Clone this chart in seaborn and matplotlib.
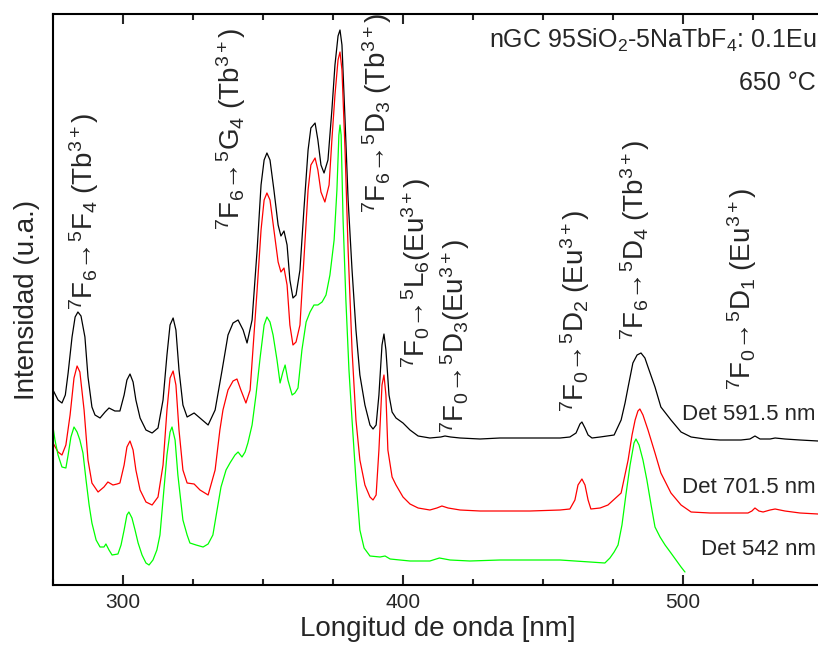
import numpy as np
import pandas as pd
import matplotlib
matplotlib.use("Agg")
import matplotlib.pyplot as plt
import seaborn as sns
from matplotlib.ticker import MultipleLocator

# Excitation spectra, intensity in arbitrary units (stacked for clarity)
wl_591 = [275.0, 276.8, 278.2, 279.4, 280.4, 281.8, 282.9, 283.9, 285.0, 286.4,
          287.5, 288.9, 290.0, 291.8, 293.6, 295.0, 297.1, 298.9, 300.4, 301.4,
          302.5, 303.6, 304.6, 306.1, 308.2, 310.4, 312.5, 314.3, 315.7, 316.8,
          317.9, 318.9, 320.0, 321.4, 322.9, 325.4, 327.5, 330.4, 332.9, 335.4,
          337.5, 339.3, 341.1, 342.9, 344.3, 346.1, 347.9, 349.3, 350.4, 351.4,
          352.5, 353.9, 355.4, 356.4, 357.5, 358.6, 359.6, 360.7, 361.8, 363.2,
          364.6, 366.1, 367.1, 368.6, 369.6, 370.7, 371.8, 373.2, 374.6, 375.7,
          376.8, 377.5, 378.2, 379.3, 380.4, 381.8, 383.2, 384.6, 386.4, 388.2,
          389.3, 390.4, 391.4, 392.5, 393.2, 393.9, 395.0, 396.1, 397.5, 400.0,
          402.5, 405.4, 409.6, 413.5, 415.0, 417.0, 420.4, 427.5, 434.6, 445.4,
          456.1, 459.6, 461.8, 463.2, 463.9, 465.0, 466.1, 467.5, 470.4, 475.4,
          477.9, 479.3, 480.4, 482.1, 483.6, 485.0, 486.4, 487.5, 490.0, 492.1,
          495.7, 499.3, 502.9, 507.9, 513.2, 520.7, 523.9, 525.7, 527.5, 531.1,
          532.9, 536.4, 541.8, 548.2]
int_591 = [195, 185, 182, 190, 212, 248, 268, 273, 269, 248,
           208, 178, 170, 167, 173, 177, 174, 174, 190, 205,
           211, 203, 185, 167, 155, 152, 157, 185, 230, 260,
           267, 255, 215, 180, 168, 172, 167, 160, 175, 215,
           250, 262, 265, 255, 242, 265, 335, 400, 425, 432,
           425, 395, 360, 349, 354, 340, 305, 287, 290, 315,
           375, 435, 457, 462, 445, 420, 412, 425, 475, 520,
           549, 555, 540, 465, 385, 315, 255, 210, 180, 160,
           156, 160, 190, 240, 251, 235, 190, 173, 167, 162,
           155, 149, 147, 148, 149, 148, 147, 146, 147, 147,
           147, 148, 152, 161, 163, 157, 150, 147, 148, 150,
           165, 182, 198, 222, 230, 232, 227, 218, 198, 178,
           165, 153, 148, 146, 145, 145, 146, 149, 146, 146,
           147, 146, 145, 144]

wl_701 = [275.0, 276.8, 278.2, 279.6, 281.1, 282.5, 283.6, 284.6, 286.1, 287.5,
          288.9, 291.1, 293.2, 294.6, 296.4, 297.9, 298.9, 300.4, 301.4, 302.5,
          303.6, 304.6, 306.1, 308.2, 310.4, 312.5, 314.3, 315.7, 316.8, 317.9,
          318.9, 320.0, 321.4, 322.9, 325.4, 327.5, 330.4, 332.9, 334.6, 335.7,
          337.5, 339.3, 340.7, 342.1, 343.9, 345.4, 346.4, 347.9, 349.3, 350.4,
          351.4, 352.5, 353.9, 355.4, 356.4, 357.5, 358.6, 359.6, 360.7, 361.8,
          363.2, 364.6, 366.1, 367.1, 368.6, 369.6, 370.7, 372.1, 373.6, 374.6,
          375.7, 376.8, 377.5, 378.2, 379.3, 380.4, 381.8, 383.2, 384.6, 386.4,
          388.2, 389.3, 390.4, 391.4, 392.5, 393.2, 393.9, 394.6, 396.1, 397.5,
          400.0, 402.5, 405.4, 409.6, 412.1, 413.9, 416.1, 420.4, 427.5, 445.4,
          456.1, 459.6, 461.4, 462.5, 463.9, 465.0, 466.1, 467.1, 470.4, 473.2,
          477.9, 480.4, 481.8, 482.9, 483.9, 484.6, 485.7, 487.5, 490.0, 492.1,
          495.7, 499.3, 502.9, 509.6, 523.2, 524.6, 525.7, 527.1, 528.6, 531.1,
          532.9, 536.4, 541.8, 548.2]
int_701 = [142, 133, 130, 140, 170, 207, 219, 213, 175, 125,
           102, 93, 98, 103, 100, 101, 102, 120, 138, 144,
           135, 115, 95, 83, 80, 88, 120, 175, 207, 214,
           200, 155, 115, 102, 101, 95, 90, 115, 155, 175,
           195, 204, 206, 195, 182, 195, 235, 295, 355, 385,
           392, 385, 355, 323, 313, 317, 300, 260, 240, 243,
           260, 325, 395, 420, 427, 415, 393, 383, 400, 445,
           490, 525, 533, 515, 435, 335, 235, 165, 125, 100,
           88, 85, 90, 135, 200, 210, 190, 135, 108, 100,
           88, 81, 77, 75, 77, 79, 77, 75, 74, 74,
           75, 76, 85, 100, 106, 100, 85, 76, 77, 80,
           92, 125, 150, 165, 174, 176, 170, 155, 132, 112,
           92, 80, 73, 72, 72, 74, 77, 74, 73, 75,
           76, 74, 72, 71]

wl_542 = [275.0, 275.7, 276.8, 278.2, 279.6, 280.4, 281.4, 282.5, 283.6, 284.6,
          285.7, 286.8, 287.9, 288.9, 290.4, 291.8, 293.2, 293.9, 295.0, 296.1,
          298.2, 299.3, 300.4, 301.4, 302.1, 303.2, 304.3, 305.4, 306.8, 308.2,
          309.3, 310.7, 312.1, 313.2, 314.6, 315.7, 316.8, 317.5, 318.6, 319.6,
          321.4, 322.9, 323.9, 326.1, 328.6, 330.4, 332.1, 333.6, 335.0, 336.8,
          338.2, 340.0, 341.1, 342.5, 343.6, 344.6, 346.1, 347.5, 349.0, 350.4,
          351.4, 352.5, 353.6, 355.0, 356.1, 357.1, 357.9, 358.9, 360.4, 361.4,
          362.5, 363.9, 365.4, 366.8, 368.2, 369.6, 371.1, 372.5, 373.9, 375.4,
          376.4, 377.1, 377.5, 377.9, 378.6, 379.6, 380.7, 381.8, 383.2, 384.6,
          386.1, 388.2, 391.8, 393.6, 395.4, 398.9, 402.5, 409.6, 413.0, 416.8,
          423.9, 434.6, 445.4, 456.1, 461.4, 466.8, 472.1, 473.9, 475.4, 476.8,
          478.2, 479.6, 481.1, 482.5, 483.2, 484.3, 485.7, 487.1, 488.6, 490.0,
          491.8, 493.6, 495.7, 497.5, 499.3, 500.7]
int_542 = [158, 145, 130, 118, 117, 130, 148, 158, 153, 145,
           132, 105, 80, 62, 45, 38, 38, 41, 35, 30,
           31, 40, 55, 70, 73, 67, 55, 42, 30, 22,
           20, 25, 35, 50, 95, 130, 153, 158, 145, 110,
           65, 50, 42, 40, 38, 41, 50, 75, 98, 115,
           122, 130, 133, 128, 133, 142, 160, 190, 228, 260,
           268, 263, 250, 225, 202, 213, 220, 205, 190, 192,
           197, 235, 263, 273, 280, 280, 283, 290, 310, 345,
           395, 450, 460, 450, 365, 285, 215, 165, 105, 55,
           37, 29, 28, 29, 26, 25, 24, 24, 27, 25,
           24, 25, 25, 25, 24, 23, 22, 27, 33, 40,
           60, 90, 120, 142, 146, 140, 125, 105, 80, 58,
           48, 40, 32, 25, 18, 13]

detections = ["Det 591.5 nm", "Det 701.5 nm", "Det 542 nm"]
colors = ["#000000", "#ff0000", "#00ff00"]

frames = []
for name, wl, inten in zip(detections, [wl_591, wl_701, wl_542],
                           [int_591, int_701, int_542]):
    frames.append(pd.DataFrame({"wl": wl, "I": inten, "det": name}))
df = pd.concat(frames, ignore_index=True)

# Transition labels: (text, wavelength of label centre, bottom of label)
transitions = [
    (r"$^{7}$F$_{6}$→$^{5}$F$_{4}$ (Tb$^{3+}$)", 286.1, 275),
    (r"$^{7}$F$_{6}$→$^{5}$G$_{4}$ (Tb$^{3+}$)", 338.6, 355),
    (r"$^{7}$F$_{6}$→$^{5}$D$_{3}$ (Tb$^{3+}$)", 390.7, 372),
    (r"$^{7}$F$_{0}$→$^{5}$L$_{6}$(Eu$^{3+}$)", 404.6, 217),
    (r"$^{7}$F$_{0}$→$^{5}$D$_{3}$(Eu$^{3+}$)", 418.6, 152),
    (r"$^{7}$F$_{0}$→$^{5}$D$_{2}$ (Eu$^{3+}$)", 461.4, 173),
    (r"$^{7}$F$_{6}$→$^{5}$D$_{4}$ (Tb$^{3+}$)", 482.9, 245),
    (r"$^{7}$F$_{0}$→$^{5}$D$_{1}$ (Eu$^{3+}$)", 521.1, 195),
]

sns.set_style("ticks")
plt.rcParams["font.family"] = ["Liberation Sans", "DejaVu Sans"]
plt.rcParams["mathtext.fontset"] = "custom"
plt.rcParams["mathtext.rm"] = "Liberation Sans"
plt.rcParams["mathtext.it"] = "Liberation Sans:italic"
plt.rcParams["mathtext.bf"] = "Liberation Sans:bold"
plt.rcParams["mathtext.default"] = "rm"

W, H = 818, 650
fig = plt.figure(figsize=(W / 100, H / 100), dpi=100)
ax = fig.add_axes([53 / W, 65 / H, 770 / W, 571 / H])

sns.lineplot(data=df, x="wl", y="I", hue="det", palette=colors,
             hue_order=detections, estimator=None, sort=False,
             linewidth=0.9, legend=False, ax=ax)

ax.set_xlim(275, 550)
ax.set_ylim(0, 571)
ax.xaxis.set_major_locator(MultipleLocator(100))
ax.xaxis.set_minor_locator(MultipleLocator(25))
ax.set_yticks([])
ax.tick_params(axis="x", which="both", direction="in", top=True,
               labelsize=15, width=1.5, pad=6)
ax.tick_params(axis="x", which="major", length=7)
ax.tick_params(axis="x", which="minor", length=4.5)
for side in ["left", "bottom", "top"]:
    ax.spines[side].set_linewidth(1.5)
    ax.spines[side].set_color("black")
ax.spines["right"].set_visible(False)

ax.set_xlabel("Longitud de onda [nm]", fontsize=20, labelpad=3)
ax.set_ylabel("Intensidad (u.a.)", fontsize=20, labelpad=9)

for text, x, y in transitions:
    ax.text(x, y, text, rotation=90, ha="center", va="bottom", fontsize=20)

fig.text(816 / W, 1 - 48 / H, r"nGC 95SiO$_{2}$-5NaTbF$_{4}$: 0.1Eu",
         ha="right", va="baseline", fontsize=18)
fig.text(816 / W, 1 - 90 / H, "650 °C", ha="right", va="baseline", fontsize=18)

for name, yb in zip(detections, [420, 493, 555]):
    fig.text(816 / W, 1 - yb / H, name, ha="right", va="baseline", fontsize=16)

fig.savefig("out.png", dpi=100)
